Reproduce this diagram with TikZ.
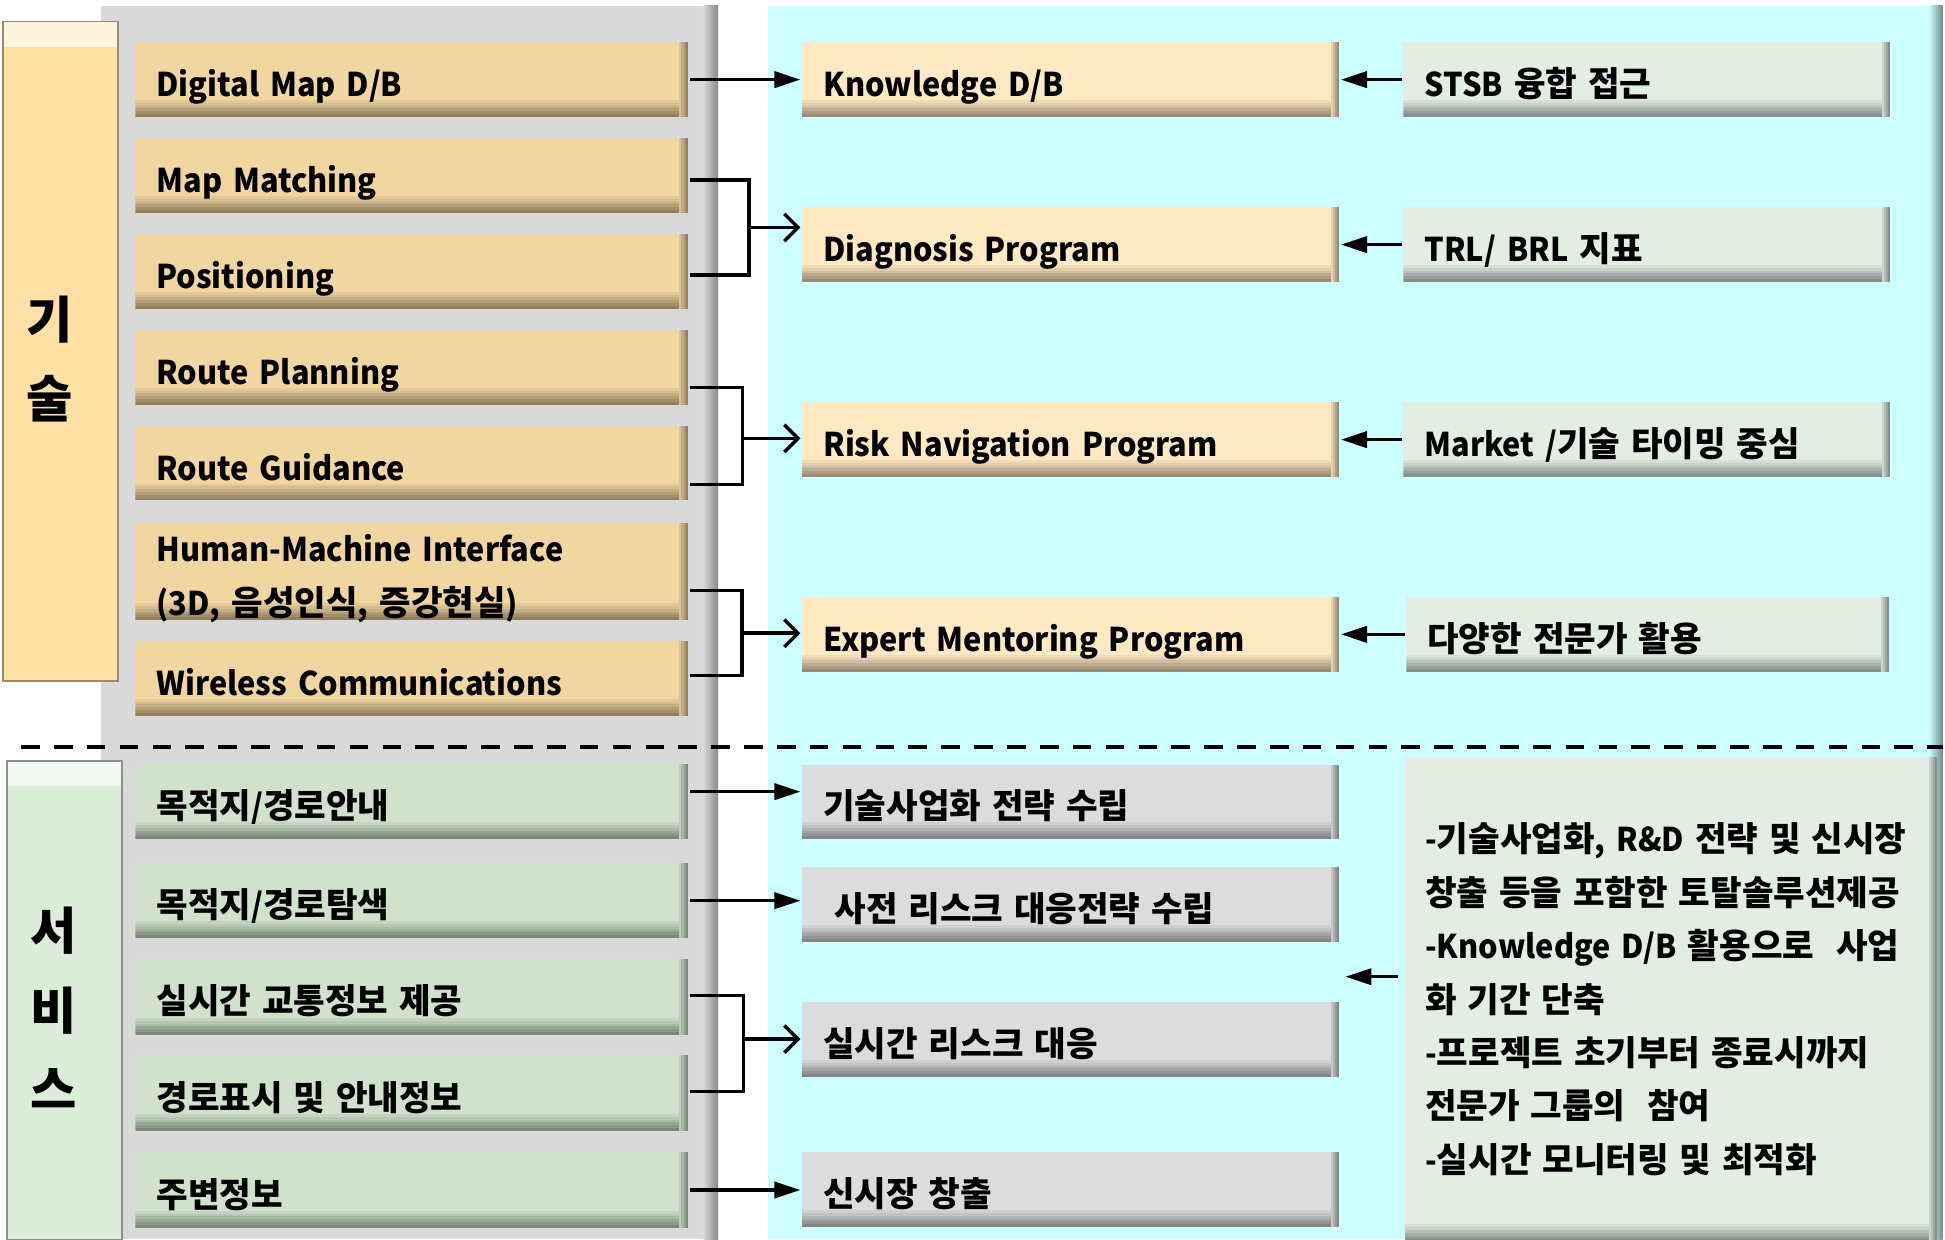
\documentclass[tikz,border=0pt]{standalone}
\usepackage{fontspec}
\setmainfont{Noto Sans CJK KR}[FakeStretch=0.94]
\newfontfamily\hangulfamily{Noto Sans CJK KR}[Scale=1.05]
% Hangul syllables in their own (wider) face
\XeTeXinterchartokenstate=1
\newXeTeXintercharclass\hangulclass
\count255="AC00
\loop
  \XeTeXcharclass\count255=\hangulclass
  \ifnum\count255<"D7A3 \advance\count255 by 1
\repeat
\XeTeXinterchartoks 0 \hangulclass = {\hangulfamily}
\XeTeXinterchartoks 4095 \hangulclass = {\hangulfamily}
\XeTeXinterchartoks \hangulclass 0 = {\rmfamily}
\XeTeXinterchartoks 4095 0 = {\rmfamily}
\usetikzlibrary{arrows.meta,calc}
\definecolor{techtan}{RGB}{241,214,160}
\definecolor{techlight}{RGB}{255,225,165}
\definecolor{progyel}{RGB}{255,233,194}
\definecolor{basisgr}{RGB}{227,237,227}
\definecolor{servgrn}{RGB}{208,226,204}
\definecolor{servlight}{RGB}{220,238,218}
\definecolor{stratgr}{RGB}{220,220,220}
\definecolor{panelgr}{RGB}{217,217,217}
\definecolor{panelcy}{RGB}{204,255,255}
\tikzset{
  every picture/.style={
    line width=1.6pt,
    >={Triangle[width=0.26cm, length=0.42cm]}
  },
  merge/.style={-{Straight Barb[length=0.22cm, width=0.44cm]}},
  tile/.style={
    fill=#1, anchor=north west,
    minimum height=1.2cm, inner xsep=0.34cm,
    text height=0.55cm, text depth=0pt, align=left,
    font=\bfseries\fontsize{15}{24.5}\selectfont,
    path picture={
      \foreach \pct [count=\k] in {94,88,81,74,67,60} {
        \fill [#1!\pct!black]
          ([yshift={(0.27-(\k-1)*0.045)*1cm}]path picture bounding box.south west)
          rectangle ([yshift={(0.27-\k*0.045)*1cm}]path picture bounding box.south east);
      }
      \foreach \pct [count=\k] in {90,80,70,60} {
        \fill [#1!\pct!black]
          ([xshift={(-0.14+(\k-1)*0.035)*1cm}]path picture bounding box.north east)
          rectangle ([xshift={(-0.14+\k*0.035)*1cm}]path picture bounding box.south east);
      }
    }
  },
  techbox/.style={tile=techtan, minimum width=8.91cm, text width=8.23cm},
  servbox/.style={tile=servgrn, minimum width=8.91cm, text width=8.23cm},
  progbox/.style={tile=progyel, minimum width=8.66cm, text width=7.98cm},
  stratbox/.style={tile=stratgr, minimum width=8.66cm, text width=7.98cm},
  basisbox/.style={tile=basisgr, minimum width=7.85cm, text width=7.17cm},
  sidelabel/.style={
    fill=#1, draw=#1!62!black, line width=0.8pt, anchor=north west,
    inner xsep=0.37cm, minimum width=1.85cm,
    text width=1.11cm, align=left, text height=0.7cm,
    font=\bfseries\fontsize{22}{36.5}\selectfont,
    path picture={
      \shade [top color=#1!35!white, bottom color=#1]
        ([yshift=0.1cm]path picture bounding box.north west)
        rectangle ([yshift=-0.4cm]path picture bounding box.north east);
    }
  }
}
\begin{document}
\begin{tikzpicture}[x=0.02cm, y=-0.02cm]
  \useasboundingbox (0,0) rectangle (1568,999);
  % panels
  \fill [panelgr] (81.4,4.8) rectangle (579,999);
  \shade [left color=panelgr, right color=panelgr!62!black] (567,4.8) rectangle (579,999);
  \fill [panelcy] (619,4.8) rectangle (1566,999);
  \shade [left color=panelcy, right color=panelcy!55!black] (1555,4.8) rectangle (1566,999);

  \node [sidelabel=techlight, minimum height=10.63cm, text depth=1.12cm] (lbltech) at (2,16.7) {기\\술};
  \node [sidelabel=servlight, minimum height=7.72cm, text depth=2.33cm] (lblserv) at (5,612.8) {서\\비\\스};

  \draw [line width=1.8pt, dash pattern=on 0.3cm off 0.23cm] (17,602) -- (1566,602);

  \node [techbox] (dmap) at (107.8,32.8) {Digital Map D/B};
  \node [techbox] (mapm) at (107.8,110.2) {Map Matching};
  \node [techbox] (posn) at (107.8,187.4) {Positioning};
  \node [techbox] (rplan) at (107.8,264.8) {Route Planning};
  \node [techbox] (rguide) at (107.8,342) {Route Guidance};
  \node [techbox, minimum height=1.57cm, text height=0.4cm, text depth=0.704cm] (hmi) at (107.8,420)
    {Human-Machine Interface\\(3D, 음성인식, 증강현실)};
  \node [techbox, minimum height=1.21cm] (wless) at (107.8,515) {Wireless Communications};

  \node [servbox] (dest) at (107.8,614.9) {목적지/경로안내};
  \node [servbox] (srch) at (107.8,694.7) {목적지/경로탐색};
  \node [servbox, minimum height=1.22cm] (traffic) at (107.8,771.8) {실시간 교통정보 제공};
  \node [servbox, minimum height=1.22cm] (disp) at (107.8,849.2) {경로표시 및 안내정보};
  \node [servbox, minimum height=1.21cm] (poi) at (107.8,927.7) {주변정보};

  \node [progbox] (kdb) at (645.3,32.8) {Knowledge D/B};
  \node [progbox] (diag) at (645.3,165.8) {Diagnosis Program};
  \node [progbox] (risk) at (645.3,323) {Risk Navigation Program};
  \node [progbox] (expert) at (645.3,480) {Expert Mentoring Program};

  \node [stratbox] (commz) at (645.3,615) {기술사업화 전략 수립};
  \node [stratbox] (prerisk) at (645.3,697.9) {\hspace*{0.18cm}사전 리스크 대응전략 수립};
  \node [stratbox] (rtrisk) at (645.3,806.7) {실시간 리스크 대응};
  \node [stratbox] (newmkt) at (645.3,927.7) {신시장 창출};

  \node [basisbox] (stsb) at (1130,32.8) {STSB 융합 접근};
  \node [basisbox] (trl) at (1130,165.8) {TRL/ BRL 지표};
  \node [basisbox] (market) at (1130,323) {Market /기술 타이밍 중심};
  \node [basisbox, minimum width=7.79cm, text width=7.11cm] (experts) at (1132.3,480) {다양한 전문가 활용};
  \node [tile=basisgr, minimum width=8.59cm, minimum height=7.81cm, inner xsep=0.33cm,
    text width=7.93cm, text height=0.4cm, text depth=5.14cm] (total) at (1131,608.7)
    {-기술사업화, R\&D 전략 및 신시장\\
     창출 등을 포함한 토탈솔루션제공\\
     -Knowledge D/B 활용으로\ \ 사업\\
     화 기간 단축\\
     -프로젝트 초기부터 종료시까지\\
     전문가 그룹의\ \ 참여\\
     -실시간 모니터링 및 최적화};

  % technology side
  \draw [->] (dmap.east) -- (kdb.west);
  \coordinate (j1) at (604,183.4);
  \draw (mapm.east |- 0,145) -| (j1) |- (posn.east |- 0,221.7);
  \draw [merge] (j1) -- (j1 -| diag.west);
  \coordinate (j2) at (598.7,353.4);
  \draw (rplan.east |- 0,312.3) -| (j2) |- (rguide.east |- 0,390.5);
  \draw [merge] (j2) -- (j2 -| risk.west);
  \coordinate (j3) at (598,510.5);
  \draw (hmi.east |- 0,476) -| (j3) |- (wless.east |- 0,544.7);
  \draw [merge] (j3) -- (j3 -| expert.west);

  \draw [->] (stsb.west) -- (kdb.east);
  \draw [->] (trl.west) -- (diag.east);
  \draw [->] (market.west) -- (risk.east);
  \draw [->] (experts.west) -- (expert.east);

  % service side
  \draw [->] (dest.east |- 0,638.2) -- (commz.west |- 0,638.2);
  \draw [->] (srch.east) -- (srch.east -| prerisk.west);
  \coordinate (j4) at (599.2,837.7);
  \draw (traffic.east |- 0,802.7) -| (j4) |- (disp.east |- 0,880);
  \draw [merge] (j4) -- (j4 -| rtrisk.west);
  \draw [->] (poi.east) -- (poi.east -| newmkt.west);
  \coordinate (ttip) at (1084.6,787.4);
  \draw [->] (total.west |- ttip) ++(-4,0) -- (ttip);
\end{tikzpicture}
\end{document}
